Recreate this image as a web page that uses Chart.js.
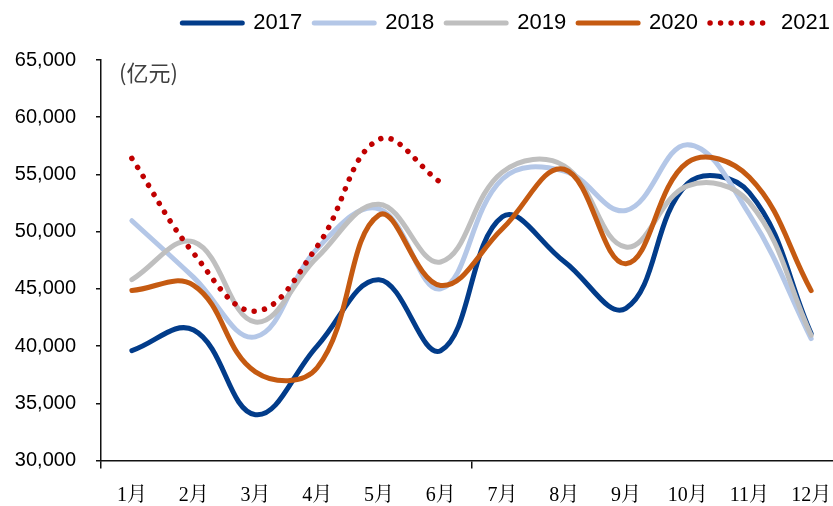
<!DOCTYPE html>
<html>
<head>
<meta charset="utf-8">
<script src="https://cdn.jsdelivr.net/npm/chart.js@4/dist/chart.umd.min.js"></script>
<style>
html,body{margin:0;padding:0;background:#fff;overflow:hidden}
#wrap{width:850px;height:506px}
</style>
</head>
<body>
<div id="wrap"><canvas id="c" width="850" height="506"></canvas></div>
<script>
const months=['1月','2月','3月','4月','5月','6月','7月','8月','9月','10月','11月','12月'];
const y2017=[39600,41400,34000,40000,45800,39600,51300,47400,43300,54200,53400,41100];
const y2018=[50950,46000,40800,48500,52000,45000,54600,55300,51850,57600,51500,40650];
const y2019=[45800,49100,42100,47750,52400,47350,55200,55750,48650,54000,52550,40950];
const y2020=[44850,45300,37750,38100,51450,45300,50250,55450,47200,56050,54750,44850];
const y2021=[56400,48100,43050,48700,58050,54300];
const yTicks=[30000,35000,40000,45000,50000,55000,60000,65000];

const series=[
  {label:'2017',data:y2017,color:'#023C8A',order:4},
  {label:'2018',data:y2018,color:'#B4C7E7',order:3},
  {label:'2019',data:y2019,color:'#BFBFBF',order:2},
  {label:'2020',data:y2020,color:'#C55A11',order:1},
  {label:'2021',data:y2021,color:'#C00000',order:0,dots:true}
];

// push the plot down below the legend
const legendGap={id:'legendGap',beforeInit(chart){
  const fit=chart.legend.fit;
  chart.legend.fit=function(){fit.call(this);this.height+=16;};
}};

const unitLabel={id:'unitLabel',afterDraw(chart){
  const ctx=chart.ctx;
  ctx.save();
  ctx.fillStyle='#404040';
  ctx.font='22px "Noto Sans CJK SC"';
  ctx.textBaseline='middle';
  ctx.fillText('(亿元)',119,73);
  ctx.restore();
}};

new Chart(document.getElementById('c'),{
  type:'line',
  data:{labels:months,datasets:series.map(s=>({
    label:s.label,data:s.data,order:s.order,
    borderColor:s.color,backgroundColor:s.color,
    borderWidth:s.dots?5.5:5,
    borderDash:s.dots?[0.01,10.5]:[],
    borderCapStyle:'round',
    tension:0.4,pointRadius:0,fill:false
  }))},
  options:{
    responsive:false,animation:false,devicePixelRatio:1,
    layout:{padding:{left:0,right:8,top:0,bottom:0}},
    plugins:{
      tooltip:{enabled:false},
      legend:{position:'top',align:'end',
        labels:{usePointStyle:true,pointStyle:'line',pointStyleWidth:60,padding:12,
          color:'#000',font:{size:22,family:'"Liberation Sans",Arial,sans-serif'},
          sort:(a,b)=>a.datasetIndex-b.datasetIndex,
          generateLabels:chart=>Chart.defaults.plugins.legend.labels.generateLabels(chart).map(it=>{
            const ds=chart.data.datasets[it.datasetIndex];
            it.lineDash=ds.borderDash;it.lineWidth=ds.borderWidth;
            it.strokeStyle=ds.borderColor;it.lineCap='round';
            return it;
          })}}
    },
    scales:{
      x:{offset:true,
        afterFit:s=>{s.height=45.5;},
        border:{display:true,color:'#111',width:1.5},
        grid:{offset:true,drawOnChartArea:false,drawTicks:true,tickLength:8,lineWidth:1.5,
          color:c=>(c.index===0||c.index===6)?'#111':'rgba(0,0,0,0)'},
        ticks:{color:'#000',padding:15,maxRotation:0,autoSkip:false,
          font:{size:20,family:'"Liberation Serif","Noto Serif CJK SC","Noto Sans CJK SC",serif'}}
      },
      y:{min:30000,max:65000,
        afterFit:s=>{s.width=101;},
        afterBuildTicks:s=>{s.ticks=yTicks.map(v=>({value:v}));},
        border:{display:true,color:'#111',width:1.5},
        grid:{drawOnChartArea:false,drawTicks:true,tickLength:5,lineWidth:1.5,color:'#111'},
        ticks:{color:'#000',padding:20,
          font:{size:20,family:'"Liberation Sans",Arial,sans-serif'},
          callback:v=>v.toLocaleString('en-US')}
      }
    }
  },
  plugins:[legendGap,unitLabel]
});
</script>
</body>
</html>
